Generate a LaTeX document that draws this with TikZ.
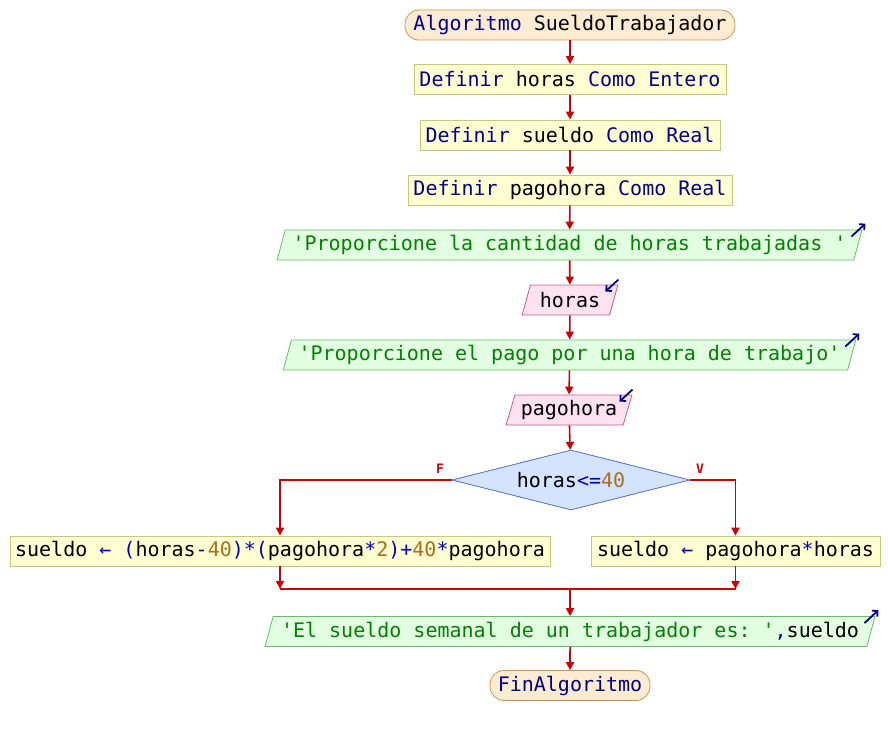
\documentclass[tikz,border=0pt]{standalone}
\usepackage{fontspec}
\setmonofont{DejaVu Sans Mono}
\usetikzlibrary{shapes.geometric,arrows.meta}
\definecolor{kwc}{RGB}{0,0,140}
\definecolor{strc}{RGB}{0,130,0}
\definecolor{numc}{RGB}{170,110,30}
\definecolor{opc}{RGB}{0,0,200}
\definecolor{arrc}{RGB}{204,0,0}
\definecolor{iconc}{RGB}{0,0,150}
\definecolor{termfill}{RGB}{253,235,210}
\definecolor{termdraw}{RGB}{205,150,80}
\definecolor{procfill}{RGB}{255,255,210}
\definecolor{procdraw}{RGB}{200,200,120}
\definecolor{outfill}{RGB}{226,255,226}
\definecolor{outdraw}{RGB}{100,190,100}
\definecolor{infill}{RGB}{255,226,240}
\definecolor{indraw}{RGB}{200,90,140}
\definecolor{decfill}{RGB}{212,228,255}
\definecolor{decdraw}{RGB}{80,110,200}
\newcommand\ckw[1]{\textcolor{kwc}{#1}}
\newcommand\cstr[1]{\textcolor{strc}{#1}}
\newcommand\cnum[1]{\textcolor{numc}{#1}}
\newcommand\cop[1]{\textcolor{opc}{#1}}
\tikzset{
  base/.style={font=\ttfamily\fontsize{20}{24}\selectfont, inner sep=0pt, minimum height=30pt, line width=0.8pt},
  term/.style={base, rectangle, rounded corners=14pt, fill=termfill, draw=termdraw},
  proc/.style={base, rectangle, fill=procfill, draw=procdraw},
  outp/.style={base, trapezium, trapezium left angle=68, trapezium right angle=112, trapezium stretches=true, fill=outfill, draw=outdraw},
  inp/.style={base, trapezium, trapezium left angle=68, trapezium right angle=112, trapezium stretches=true, fill=infill, draw=indraw},
  decis/.style={base, diamond, aspect=4, minimum width=238pt, minimum height=60pt, fill=decfill, draw=decdraw},
  arr/.style={draw=arrc, line width=1.6pt, -{Triangle[width=8pt,length=8pt]}},
  ln/.style={draw=arrc, line width=1.6pt},
  icon/.style={draw=iconc, line width=1.8pt, -{Straight Barb[length=4pt,width=8pt]}},
  lab/.style={font=\ttfamily\bfseries\fontsize{13}{15}\selectfont, text=arrc, inner sep=0pt}
}
\begin{document}
\begin{tikzpicture}[x=1pt,y=-1pt]
\useasboundingbox (0,0) rectangle (888,735);
\node[term, minimum width=330pt] (start) at (570,25) {\ckw{Algoritmo} SueldoTrabajador};
\node[proc, minimum width=312pt] (d1) at (570,79.5) {\ckw{Definir} horas \ckw{Como} \ckw{Entero}};
\node[proc, minimum width=300pt] (d2) at (570,135) {\ckw{Definir} sueldo \ckw{Como} \ckw{Real}};
\node[proc, minimum width=324pt] (d3) at (570,190) {\ckw{Definir} pagohora \ckw{Como} \ckw{Real}};
\node[outp, minimum width=585pt] (o1) at (569.5,245) {\cstr{'Proporcione la cantidad de horas trabajadas '}};
\node[inp, minimum width=96pt] (i1) at (570,300) {horas};
\node[outp, minimum width=575pt] (o2) at (569.5,355) {\cstr{'Proporcione el pago por una hora de trabajo'}};
\node[inp, minimum width=126pt] (i2) at (569,410) {pagohora};
\node[decis] (dec) at (571,480) {horas\cop{<=}\cnum{40}};
\node[proc, minimum width=540pt] (left) at (280,551) {sueldo \cop{←} \cop{(}horas\cop{-}\cnum{40}\cop{)}\cop{*}\cop{(}pagohora\cop{*}\cnum{2}\cop{)}\cop{+}\cnum{40}\cop{*}pagohora};
\node[proc, minimum width=289pt] (right) at (735.5,551) {sueldo \cop{←} pagohora\cop{*}horas};
\node[outp, minimum width=612pt] (o3) at (570,631.5) {\cstr{'El sueldo semanal de un trabajador es: '}\cop{,}sueldo};
\node[term, minimum width=160pt] (end) at (570,685.5) {\ckw{FinAlgoritmo}};
\node[lab] (lf) at (440,469) {F};
\node[lab] (lv) at (700,469) {V};
\coordinate (jl) at (280,589);
\coordinate (jr) at (735.5,589);
\coordinate (jm) at (570,589);
\draw[arr] (start) -- (d1);
\draw[arr] (d1) -- (d2);
\draw[arr] (d2) -- (d3);
\draw[arr] (d3) -- (o1);
\draw[arr] (o1) -- (i1);
\draw[arr] (i1) -- (o2);
\draw[arr] (o2) -- (i2);
\draw[arr] (i2) -- (dec);
\draw[arr] (dec.west) -| (left.north);
\draw[arr] (dec.east) -| (right.north);
\draw[arr] (left.south) -- (jl);
\draw[arr] (right.south) -- (jr);
\draw[ln] (jl) -- (jr);
\draw[arr] (jm) -- (o3.north);
\draw[arr] (o3) -- (end);
\coordinate (t1) at ([shift={(-11,7)}]o1.top right corner);
\coordinate (h1) at ([shift={(3,-6)}]o1.top right corner);
\coordinate (t2) at ([shift={(-11,7)}]o2.top right corner);
\coordinate (h2) at ([shift={(3,-6)}]o2.top right corner);
\coordinate (t3) at ([shift={(-11,7)}]o3.top right corner);
\coordinate (h3) at ([shift={(3,-6)}]o3.top right corner);
\coordinate (t4) at ([shift={(0,-5)}]i1.top right corner);
\coordinate (h4) at ([shift={(-13,7)}]i1.top right corner);
\coordinate (t5) at ([shift={(0,-5)}]i2.top right corner);
\coordinate (h5) at ([shift={(-13,7)}]i2.top right corner);
\draw[icon] (t1) -- (h1);
\draw[icon] (t2) -- (h2);
\draw[icon] (t3) -- (h3);
\draw[icon] (t4) -- (h4);
\draw[icon] (t5) -- (h5);
\end{tikzpicture}
\end{document}
